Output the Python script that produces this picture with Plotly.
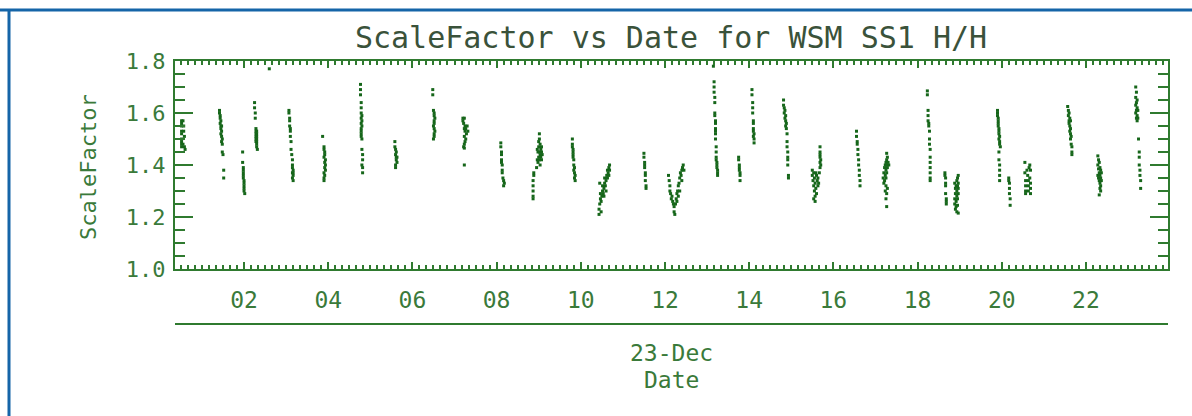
import plotly.graph_objects as go
from datetime import datetime, timedelta

# ---------------- data ----------------
day = "2004-12-23"
day_label = "23-Dec"
chart_title = "ScaleFactor vs Date for WSM SS1 H/H"
x_title = "Date"
y_title = "ScaleFactor"

# minutes after midnight of the day, one entry per measurement (grouped by pass)
minute_of_day = [
    31, 31, 31, 31, 31, 31, 31, 31, 31, 33, 34, 33, 35, 36, 35, 34,
    85, 85, 86, 86, 87, 86, 87, 88, 87, 88, 87, 88, 89, 88, 89, 89, 90, 91, 91,
    118, 118, 119, 119, 119, 119, 119, 120, 120, 120, 120, 120, 121,
    135, 135, 136, 136, 137, 137, 138, 137, 138, 137, 138, 137, 138, 137, 138, 138, 138, 139,
    156,
    184, 184, 185, 185, 185, 186, 186, 186, 187, 187, 188, 189, 189, 189, 190, 189, 190, 190, 189, 190,
    232, 234, 234, 235, 235, 234, 236, 235, 236, 235, 236, 234, 235, 234, 234,
    286, 286, 286, 287, 287, 287, 288, 287, 288, 287, 288, 287, 287, 287, 287, 288, 288, 289, 289, 288, 289, 289,
    335, 335, 336, 337, 336, 337, 338, 337, 338, 336, 336,
    389, 389, 390, 391, 391, 392, 391, 391, 390, 391, 392, 391, 391, 390,
    432, 432, 434, 433, 435, 434, 436, 438, 435, 437, 439, 434, 436, 435, 434, 433, 434, 434,
    486, 486, 487, 487, 487, 487, 488, 488, 488, 489, 490, 491, 490,
    541, 541, 540, 542, 544, 540, 543, 538, 541, 544, 539, 542, 545, 540, 543, 538, 541, 544, 539, 542, 537,
    533, 533, 532, 532, 532, 532, 532,
    588, 588, 588, 589, 589, 589, 589, 590, 590, 591, 590, 591, 592, 591, 592,
    626, 626, 627, 628, 629, 630, 628, 631, 632, 633, 631, 634, 635, 636, 634, 637, 638, 639, 638, 640, 641, 641, 640, 636, 633, 627, 629,
    690, 690, 691, 691, 691, 692, 692, 692, 693, 693,
    725, 726, 727, 727, 728, 729, 730, 731, 732, 733, 733, 734, 735, 736, 737, 738, 739, 740, 741, 742, 743, 744, 745, 746, 747, 741, 737, 744, 739,
    789, 790, 790, 790, 791, 791, 791, 791, 792, 792, 792, 792, 792, 792, 793, 793, 793, 793, 794, 794, 794, 795, 795, 795,
    825, 825, 826, 826, 826, 827, 827, 827,
    844, 844, 845, 845, 845, 846, 846, 846, 846, 847, 846, 847, 847,
    889, 889, 890, 891, 890, 892, 891, 892, 893, 892, 893, 894, 894, 894, 895, 895, 895, 895, 896, 896,
    941, 941, 941, 941, 942, 941, 942, 941, 930, 932, 935, 930, 933, 936, 938, 931, 934, 937, 932, 935, 938, 933, 936, 934, 932, 934, 940, 939,
    993, 993, 994, 994, 995, 995, 996, 996, 997, 997, 998, 998,
    1036, 1037, 1036, 1035, 1034, 1036, 1038, 1033, 1035, 1037, 1039, 1032, 1034, 1036, 1031, 1033, 1035, 1032, 1035, 1034, 1037, 1036, 1035, 1036,
    1094, 1094, 1095, 1095, 1095, 1096, 1096, 1097, 1097, 1097, 1098, 1098, 1098, 1098, 1098, 1098, 1098,
    1119, 1119, 1120, 1120, 1120, 1120, 1121, 1121, 1121,
    1138, 1137, 1136, 1138, 1135, 1137, 1134, 1136, 1138, 1134, 1136, 1138, 1133, 1135, 1137, 1133, 1135, 1137, 1134, 1136, 1138, 1133,
    1194, 1194, 1194, 1195, 1195, 1195, 1195, 1196, 1196, 1196, 1197, 1196, 1197, 1197, 1198, 1196, 1196, 1197, 1197, 1197, 1197,
    1210, 1210, 1211, 1211, 1211, 1212, 1212,
    1233, 1240, 1239, 1236, 1241, 1233, 1237, 1240, 1234, 1238, 1241, 1234, 1238, 1241, 1234, 1238, 1234, 1241,
    1294, 1295, 1296, 1295, 1297, 1296, 1298, 1296, 1297, 1298, 1297, 1298, 1299, 1298, 1299, 1300, 1300, 1300,
    1337, 1338, 1339, 1337, 1340, 1338, 1341, 1339, 1337, 1340, 1342, 1338, 1341, 1339, 1342, 1340, 1341, 1340, 1341, 1339,
    1391, 1392, 1391, 1393, 1392, 1391, 1393, 1392, 1394, 1391, 1393, 1392, 1394, 1393, 1395, 1396, 1396, 1396, 1397, 1397, 1398, 1398,
]

scale_factor = [
    1.57, 1.56, 1.55, 1.53, 1.52, 1.50, 1.49, 1.48, 1.47, 1.57, 1.53, 1.48, 1.47, 1.46, 1.51, 1.55,
    1.61, 1.60, 1.59, 1.58, 1.57, 1.56, 1.55, 1.55, 1.54, 1.53, 1.52, 1.51, 1.50, 1.49, 1.48, 1.45, 1.44, 1.38, 1.35,
    1.45, 1.41, 1.39, 1.38, 1.37, 1.36, 1.35, 1.34, 1.33, 1.32, 1.31, 1.30, 1.29,
    1.64, 1.62, 1.60, 1.58, 1.54, 1.53, 1.53, 1.52, 1.52, 1.51, 1.51, 1.50, 1.50, 1.49, 1.49, 1.48, 1.47, 1.46,
    1.77,
    1.61, 1.60, 1.58, 1.57, 1.55, 1.54, 1.53, 1.51, 1.49, 1.46, 1.44, 1.42, 1.40, 1.39, 1.38, 1.37, 1.37, 1.36, 1.35, 1.34,
    1.51, 1.47, 1.46, 1.45, 1.44, 1.43, 1.42, 1.41, 1.40, 1.39, 1.38, 1.37, 1.36, 1.35, 1.34,
    1.71, 1.69, 1.67, 1.64, 1.62, 1.60, 1.59, 1.58, 1.57, 1.56, 1.55, 1.54, 1.53, 1.52, 1.51, 1.50, 1.46, 1.44, 1.42, 1.40, 1.39, 1.37,
    1.49, 1.47, 1.46, 1.45, 1.44, 1.43, 1.43, 1.42, 1.41, 1.40, 1.39,
    1.69, 1.67, 1.61, 1.60, 1.59, 1.58, 1.57, 1.56, 1.55, 1.54, 1.53, 1.52, 1.51, 1.50,
    1.58, 1.57, 1.58, 1.56, 1.55, 1.54, 1.54, 1.55, 1.53, 1.52, 1.53, 1.51, 1.50, 1.49, 1.48, 1.47, 1.465, 1.40,
    1.485, 1.47, 1.45, 1.44, 1.42, 1.41, 1.40, 1.38, 1.37, 1.35, 1.34, 1.33, 1.32,
    1.52, 1.50, 1.49, 1.48, 1.47, 1.47, 1.46, 1.46, 1.45, 1.45, 1.45, 1.44, 1.44, 1.43, 1.43, 1.42, 1.42, 1.42, 1.41, 1.40, 1.39,
    1.37, 1.36, 1.34, 1.32, 1.30, 1.28, 1.27,
    1.50, 1.48, 1.47, 1.46, 1.45, 1.44, 1.43, 1.42, 1.40, 1.39, 1.38, 1.37, 1.36, 1.35, 1.34,
    1.21, 1.23, 1.25, 1.27, 1.26, 1.28, 1.29, 1.30, 1.29, 1.31, 1.32, 1.33, 1.32, 1.34, 1.35, 1.36, 1.35, 1.37, 1.38, 1.39, 1.38, 1.40, 1.36, 1.30, 1.28, 1.33, 1.22,
    1.445, 1.43, 1.41, 1.40, 1.39, 1.37, 1.36, 1.34, 1.32, 1.31,
    1.36, 1.34, 1.32, 1.30, 1.29, 1.27, 1.28, 1.26, 1.25, 1.24, 1.22, 1.21, 1.25, 1.27, 1.29, 1.30, 1.32, 1.33, 1.35, 1.37, 1.36, 1.38, 1.39, 1.40, 1.38, 1.30, 1.26, 1.34, 1.28,
    1.78, 1.72, 1.70, 1.68, 1.66, 1.64, 1.60, 1.59, 1.57, 1.56, 1.54, 1.53, 1.52, 1.50, 1.47, 1.45, 1.43, 1.42, 1.41, 1.40, 1.39, 1.38, 1.37, 1.36,
    1.43, 1.42, 1.40, 1.39, 1.38, 1.37, 1.36, 1.34,
    1.69, 1.67, 1.64, 1.62, 1.60, 1.57, 1.56, 1.54, 1.53, 1.52, 1.51, 1.50, 1.485,
    1.65, 1.63, 1.62, 1.61, 1.60, 1.59, 1.58, 1.57, 1.56, 1.55, 1.54, 1.52, 1.49, 1.47, 1.45, 1.43, 1.42, 1.40, 1.36, 1.35,
    1.47, 1.45, 1.44, 1.43, 1.42, 1.41, 1.40, 1.39, 1.38, 1.37, 1.37, 1.36, 1.35, 1.36, 1.35, 1.34, 1.33, 1.34, 1.32, 1.31, 1.32, 1.30, 1.29, 1.28, 1.27, 1.26, 1.37, 1.33,
    1.53, 1.51, 1.49, 1.48, 1.46, 1.44, 1.42, 1.40, 1.38, 1.36, 1.34, 1.32,
    1.445, 1.43, 1.42, 1.41, 1.40, 1.40, 1.41, 1.39, 1.38, 1.39, 1.40, 1.37, 1.36, 1.37, 1.35, 1.34, 1.35, 1.33, 1.32, 1.30, 1.31, 1.29, 1.27, 1.24,
    1.685, 1.67, 1.61, 1.59, 1.57, 1.56, 1.55, 1.53, 1.50, 1.48, 1.46, 1.43, 1.41, 1.39, 1.37, 1.35, 1.34,
    1.37, 1.36, 1.35, 1.33, 1.32, 1.29, 1.27, 1.26, 1.25,
    1.36, 1.35, 1.34, 1.33, 1.32, 1.32, 1.31, 1.30, 1.31, 1.29, 1.28, 1.29, 1.27, 1.26, 1.27, 1.25, 1.24, 1.245, 1.23, 1.22, 1.215, 1.33,
    1.61, 1.60, 1.59, 1.58, 1.57, 1.56, 1.55, 1.54, 1.53, 1.52, 1.51, 1.50, 1.49, 1.48, 1.47, 1.45, 1.42, 1.40, 1.38, 1.36, 1.34,
    1.35, 1.34, 1.33, 1.31, 1.29, 1.27, 1.245,
    1.41, 1.40, 1.39, 1.38, 1.38, 1.37, 1.36, 1.35, 1.34, 1.34, 1.33, 1.32, 1.32, 1.31, 1.30, 1.30, 1.29, 1.29,
    1.625, 1.61, 1.60, 1.59, 1.58, 1.57, 1.57, 1.56, 1.55, 1.54, 1.53, 1.52, 1.51, 1.50, 1.48, 1.47, 1.45, 1.44,
    1.435, 1.42, 1.41, 1.40, 1.39, 1.385, 1.38, 1.37, 1.36, 1.36, 1.37, 1.35, 1.35, 1.34, 1.34, 1.33, 1.32, 1.31, 1.30, 1.285,
    1.70, 1.68, 1.66, 1.65, 1.64, 1.63, 1.62, 1.61, 1.61, 1.60, 1.59, 1.58, 1.58, 1.57, 1.50, 1.45, 1.43, 1.40, 1.38, 1.36, 1.34, 1.31,
]

y_tick_values = [1.0, 1.2, 1.4, 1.6, 1.8]
y_range = [1.0, 1.8]
x_range_minutes = [21.6, 1437]

# ---------------- build ----------------
t0 = datetime.fromisoformat(day)
times = [t0 + timedelta(minutes=m) for m in minute_of_day]
x_range = [t0 + timedelta(minutes=m) for m in x_range_minutes]

GREEN_LINE = "#2f7a2f"
GREEN_TEXT = "#3a7a3a"
TITLE_COL = "#3a523a"
MARK = "#16661a"
BLUE = "#1565a8"
FONT = "DejaVu Sans Mono"

fig = go.Figure(
    go.Scatter(
        x=times, y=scale_factor, mode="markers",
        marker=dict(symbol="square", size=3, color=MARK, line=dict(width=0)),
        hoverinfo="x+y",
    )
)

L, R, T, B = 175, 24, 61, 147
W, H = 1192, 416
PW, PH = W - L - R, H - T - B


def px_x(px):
    return (px - L) / PW


def px_y(py):
    return (H - B - py) / PH


fig.update_layout(
    width=W, height=H,
    margin=dict(l=L, r=R, t=T, b=B, pad=0),
    paper_bgcolor="white", plot_bgcolor="white",
    showlegend=False,
    title=dict(text=chart_title, x=671 / W, xanchor="center",
               y=1 - 37 / H, yanchor="middle", yref="container",
               font=dict(family=FONT, size=30, color=TITLE_COL)),
    font=dict(family=FONT, color=GREEN_TEXT),
)

fig.update_xaxes(
    type="date", range=x_range,
    tick0=t0, dtick=2 * 3600 * 1000, tickformat="%H",
    ticks="inside", ticklen=7, tickwidth=2, tickcolor=GREEN_LINE,
    minor=dict(dtick=10 * 60 * 1000, ticks="inside", ticklen=4, tickwidth=1.5, tickcolor=GREEN_LINE),
    showline=True, linecolor=GREEN_LINE, linewidth=2, mirror="ticks",
    showgrid=False, zeroline=False,
    tickfont=dict(family=FONT, size=23, color=GREEN_TEXT),
    ticklabelstandoff=9,
)

fig.update_yaxes(
    range=y_range, tickvals=y_tick_values, tickformat=".1f",
    ticks="inside", ticklen=18, tickwidth=2, tickcolor=GREEN_LINE,
    minor=dict(dtick=0.05, ticks="inside", ticklen=10, tickwidth=2, tickcolor=GREEN_LINE),
    showline=True, linecolor=GREEN_LINE, linewidth=2, mirror="ticks",
    showgrid=False, zeroline=False,
    tickfont=dict(family=FONT, size=22, color=GREEN_TEXT),
    ticklabelstandoff=3,
)

# secondary date axis line, date label and axis title
fig.add_shape(type="line", xref="paper", yref="paper",
              x0=0, x1=1, y0=px_y(324), y1=px_y(324),
              line=dict(color=GREEN_LINE, width=2))
fig.add_annotation(text=day_label, xref="paper", yref="paper", x=0.5, y=px_y(353),
                   xanchor="center", yanchor="middle", showarrow=False,
                   font=dict(family=FONT, size=23, color=GREEN_TEXT))
fig.add_annotation(text=x_title, xref="paper", yref="paper", x=0.5, y=px_y(380),
                   xanchor="center", yanchor="middle", showarrow=False,
                   font=dict(family=FONT, size=23, color=GREEN_TEXT))
fig.add_annotation(text=y_title, xref="paper", yref="paper", x=px_x(88), y=px_y(167),
                   xanchor="center", yanchor="middle", textangle=-90, showarrow=False,
                   font=dict(family=FONT, size=22, color=GREEN_TEXT))

# blue frame of the page (top and left edges)
fig.add_shape(type="line", xref="paper", yref="paper",
              x0=px_x(0), x1=px_x(W), y0=px_y(10), y1=px_y(10),
              line=dict(color=BLUE, width=3))
fig.add_shape(type="line", xref="paper", yref="paper",
              x0=px_x(9), x1=px_x(9), y0=px_y(10), y1=px_y(H),
              line=dict(color=BLUE, width=3))

fig.write_html("out.html", config={"displayModeBar": False},
               post_script="document.body.style.margin='0';document.body.style.overflow='hidden';")
